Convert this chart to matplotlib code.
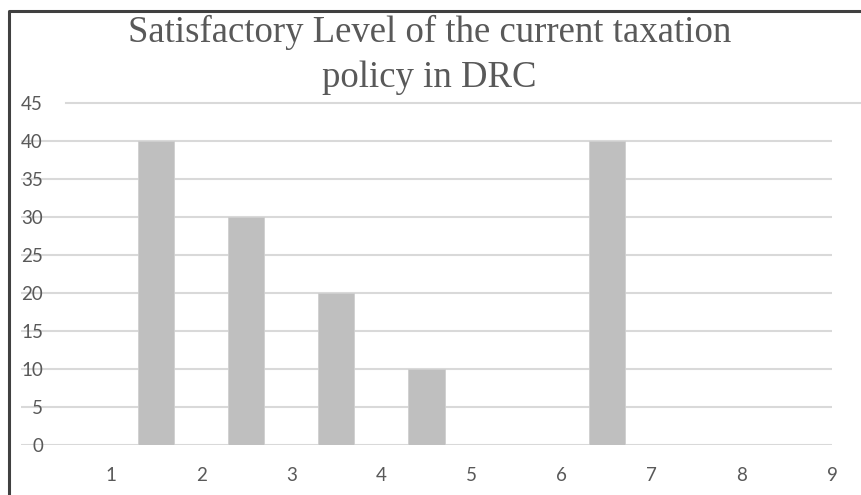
import matplotlib
matplotlib.use("Agg")
import matplotlib.pyplot as plt
from matplotlib.lines import Line2D

# Responses per satisfaction level (bars sit between the numbered ticks)
bar_positions = [1.5, 2.5, 3.5, 4.5, 5.5, 6.5, 7.5, 8.5]
bar_values = [40, 30, 20, 10, 0, 40, 0, 0]
x_ticks = [1, 2, 3, 4, 5, 6, 7, 8, 9]
y_ticks = [0, 5, 10, 15, 20, 25, 30, 35, 40]
title_lines = ["Satisfactory Level of the current taxation", "policy in DRC"]

W, H = 862, 495
fig = plt.figure(figsize=(W / 100, H / 100), dpi=100)
fig.patch.set_facecolor("white")

ax = fig.add_axes([21 / W, 1 - 445 / H, (832 - 21) / W, (445 - 103) / H])
ax.set_xlim(0, 9)
ax.set_ylim(0, 45)

ax.bar(bar_positions, bar_values, width=0.4, color="#bfbfbf",
       edgecolor="#cfcfcf", linewidth=0.6, zorder=3)

text_col = "#595959"
grid_col = "#d9d9d9"
for v in y_ticks:
    ax.axhline(v, color=grid_col, linewidth=1.5, zorder=1)
# top gridline runs past the plot edge
ax.axhline(45, xmin=(66 - 21) / 811, xmax=(862 - 21) / 811,
           color=grid_col, linewidth=1.5, zorder=1, clip_on=False)

for s in ax.spines.values():
    s.set_visible(False)

ax.set_xticks(x_ticks)
ax.set_xticklabels([str(t) for t in x_ticks])
ax.set_yticks(y_ticks + [45])
ax.set_yticklabels([str(t) for t in y_ticks + [45]])
ax.tick_params(axis="both", length=0, colors=text_col, labelsize=13.5)
ax.tick_params(axis="y", pad=-15.8)
ax.tick_params(axis="x", pad=15.5)
for lbl in ax.get_xticklabels() + ax.get_yticklabels():
    lbl.set_family(["Lato", "DejaVu Sans"])
    lbl.set_zorder(5)
for lbl in ax.get_yticklabels():
    lbl.set_horizontalalignment("right")

# two-line title, each line placed on its own baseline
for line, base_px in zip(title_lines, [42, 87]):
    fig.text(0.498, 1 - base_px / H, line, ha="center", va="baseline",
             fontsize=26.5, family="Liberation Serif", color=text_col)

# chart frame (left and top edges)
frame = Line2D([9.5 / W, 9.5 / W, 1.0], [0.0, 1 - 11 / H, 1 - 11 / H],
               transform=fig.transFigure, color="#404040", linewidth=2.2)
fig.add_artist(frame)

fig.savefig("out.png", dpi=100, facecolor="white")
